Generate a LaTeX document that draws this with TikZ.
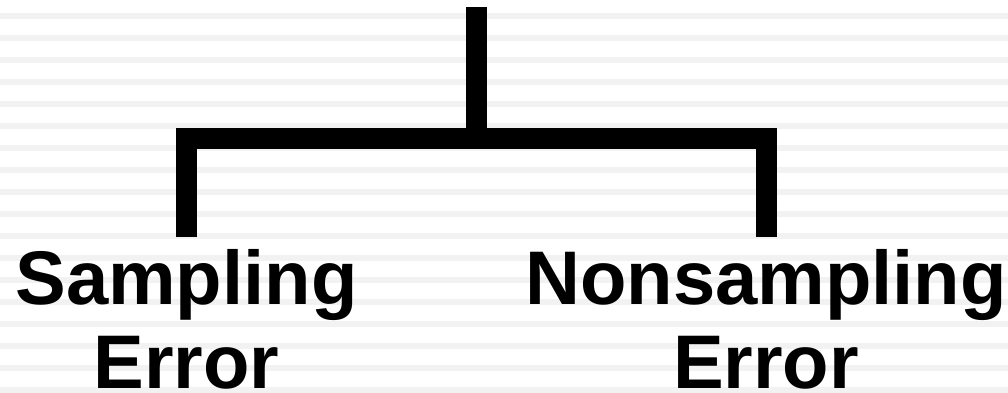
\documentclass[tikz,border=0pt]{standalone}
\usepackage{fontspec}
\setmainfont{Liberation Sans}
\definecolor{stripegray}{HTML}{F2F2F2}
\begin{document}
\begin{tikzpicture}[x=1pt, y=1pt,
    errtext/.style={font=\bfseries\fontsize{76}{84}\selectfont, align=center, inner xsep=0pt, inner ysep=12pt, anchor=north},
    branch/.style={line width=21pt, line join=miter}]
    % lined paper in the background
    \useasboundingbox (0,0) rectangle (1008,-393);
    \fill[white] (0,0) rectangle (1008,-393);
    \foreach \i in {0,...,17}
        \fill[stripegray] (0,-13-22*\i) rectangle (1008,-19-22*\i);
    % the two kinds of error
    \node[errtext] (samp) at (186.5,-237) {Sampling\\Error};
    \node[errtext] (nons) at (766,-237) {Nonsampling\\Error};
    % the tree above them
    \coordinate (root) at (476,-7);
    \coordinate (bar) at (476,-138);
    \draw[branch] (root) -- (bar);
    \draw[branch] (samp.north) |- (bar) -| (nons.north);
\end{tikzpicture}
\end{document}
